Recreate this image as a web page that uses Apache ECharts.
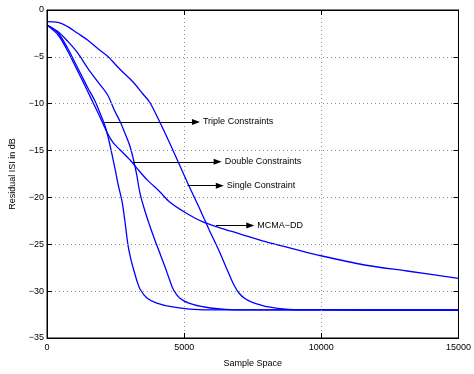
<!DOCTYPE html>
<html>
<head>
<meta charset="utf-8">
<script src="https://cdn.jsdelivr.net/npm/echarts@6/dist/echarts.min.js"></script>
<style>
  html, body { margin: 0; padding: 0; background: #fff; }
  #chart { width: 474px; height: 374px; }
</style>
</head>
<body>
<div id="chart"></div>
<script>
// Residual ISI (dB) versus number of samples for four equalizer variants
const tripleConstraints = [
  [0, -1.6], [407, -2.45], [768, -4.16], [1010, -5.55], [1251, -6.94], [1489, -8.32],
  [1731, -9.6], [1947, -11.1], [2091, -12.16], [2200, -13.23], [2344, -15.05],
  [2488, -17.07], [2596, -18.67], [2740, -20.49], [2849, -22.73], [2957, -25.18],
  [3065, -26.68], [3173, -27.85], [3281, -28.92], [3389, -29.77], [3642, -30.73],
  [4003, -31.27], [4580, -31.69], [5193, -31.91], [6274, -32.0], [8000, -32.0],
  [10000, -32.0], [12000, -32.05], [15000, -32.05]
];
const doubleConstraints = [
  [0, -1.6], [407, -2.32], [768, -3.38], [1129, -4.62], [1489, -6.22], [1850, -7.65],
  [2211, -9.07], [2452, -10.67], [2668, -11.92], [2849, -13.2], [3029, -14.59],
  [3155, -16.0], [3271, -17.6], [3389, -19.53], [3570, -21.45], [3750, -23.05],
  [3930, -24.54], [4111, -25.93], [4291, -27.32], [4471, -28.81], [4615, -29.88],
  [4832, -30.73], [5193, -31.3], [5795, -31.72], [6516, -31.94], [7356, -32.0],
  [10000, -32.0], [12000, -32.0], [15000, -32.0]
];
const singleConstraint = [
  [0, -1.25], [397, -1.31], [757, -1.78], [1118, -2.49], [1478, -3.2], [1839, -4.09],
  [2199, -4.91], [2668, -6.35], [3137, -7.68], [3497, -8.96], [3750, -9.87],
  [4111, -11.95], [4471, -14.19], [4832, -16.54], [5193, -18.89], [5553, -21.13],
  [5914, -23.48], [6274, -25.72], [6635, -28.17], [6815, -29.34], [6996, -30.2],
  [7212, -30.79], [7464, -31.16], [8077, -31.69], [8798, -31.94], [9880, -32.0],
  [12000, -32.0], [15000, -32.0]
];
const mcmaDD = [
  [0, -1.6], [407, -2.67], [768, -4.45], [1010, -5.87], [1251, -7.29], [1489, -8.72],
  [1670, -9.82], [1947, -11.52], [2200, -13.13], [2416, -14.19], [2668, -14.94],
  [3029, -16.01], [3281, -16.9], [3642, -18.1], [4111, -19.39], [4471, -20.49],
  [5084, -21.69], [5661, -22.59], [6274, -23.21], [6996, -23.85], [7963, -24.72],
  [8906, -25.43], [10024, -26.25], [11575, -27.21], [13125, -27.85], [15000, -28.63]
];

// Annotation arrows: [start x, y, end x] in data units, with their texts
const annotationTexts = ['Triple Constraints', 'Double Constraints', 'Single Constraint', 'MCMA\u2212DD'];
const annotationArrows = [
  [2092, -11.95, 5430],
  [3137, -16.2, 6220],
  [5120, -18.75, 6300],
  [6166, -23.0, 7410]
];

const xTicks = { min: 0, max: 15000, interval: 5000 };
const yTicks = { min: -35, max: 0, interval: 5 };

const FONT = 'Liberation Sans';
const fmtMinus = v => String(v).replace('-', '\u2212');

function arrowMark(i) {
  const a = annotationArrows[i];
  return {
    silent: true,
    symbol: ['none', 'triangle'],
    symbolSize: [6, 8],
    lineStyle: { color: '#000', width: 1, type: 'solid' },
    label: {
      show: true, position: 'end', distance: 7,
      formatter: annotationTexts[i],
      color: '#000', fontSize: 9, fontFamily: FONT
    },
    emphasis: { disabled: true },
    data: [[{ coord: [a[0], a[1]] }, { coord: [a[2], a[1]] }]]
  };
}

function curve(name, data, idx) {
  return {
    name, type: 'line', data,
    xAxisIndex: 0, yAxisIndex: 0,
    showSymbol: false, smooth: 0.3,
    lineStyle: { color: '#0000ff', width: 1.3 },
    markLine: arrowMark(idx),
    z: 3
  };
}

const gridLine = () => ({ show: true, lineStyle: { color: '#8c8c8c', type: [1, 3], width: 1 } });
const tickIn = () => ({ show: true, inside: true, length: 5, lineStyle: { color: '#000', width: 1 } });
const blackLine = () => ({ show: true, onZero: false, lineStyle: { color: '#000', width: 1 } });

const chart = echarts.init(document.getElementById('chart'), null, { renderer: 'canvas' });

chart.setOption({
  animation: false,
  backgroundColor: '#fff',
  textStyle: { fontFamily: FONT },
  grid: { left: 46, right: 12, top: 10, bottom: 36, show: true, borderColor: '#000', borderWidth: 1, backgroundColor: 'transparent' },
  xAxis: [
    {
      type: 'value', position: 'bottom', ...xTicks,
      name: 'Sample Space', nameLocation: 'middle', nameGap: 21,
      nameTextStyle: { color: '#000', fontSize: 9, fontFamily: FONT },
      axisLine: blackLine(),
      axisTick: tickIn(),
      axisLabel: { color: '#000', fontSize: 9, fontFamily: FONT, margin: 5, showMaxLabel: true, showMinLabel: true, formatter: v => String(v) },
      splitLine: gridLine(),
      z: 5
    },
    {
      type: 'value', position: 'top', ...xTicks,
      axisLine: blackLine(),
      axisTick: tickIn(), axisLabel: { show: false }, splitLine: { show: false },
      z: 5
    }
  ],
  yAxis: [
    {
      type: 'value', position: 'left', ...yTicks,
      name: 'Residual ISI in dB', nameLocation: 'middle', nameGap: 30,
      nameTextStyle: { color: '#000', fontSize: 9, fontFamily: FONT },
      axisLine: blackLine(),
      axisTick: tickIn(),
      axisLabel: { color: '#000', fontSize: 9, fontFamily: FONT, margin: 3, formatter: fmtMinus },
      splitLine: gridLine(),
      z: 5
    },
    {
      type: 'value', position: 'right', ...yTicks,
      axisLine: blackLine(),
      axisTick: tickIn(), axisLabel: { show: false }, splitLine: { show: false },
      z: 5
    }
  ],
  series: [
    curve('Triple Constraints', tripleConstraints, 0),
    curve('Double Constraints', doubleConstraints, 1),
    curve('Single Constraint', singleConstraint, 2),
    curve('MCMA-DD', mcmaDD, 3)
  ]
});
</script>
</body>
</html>
